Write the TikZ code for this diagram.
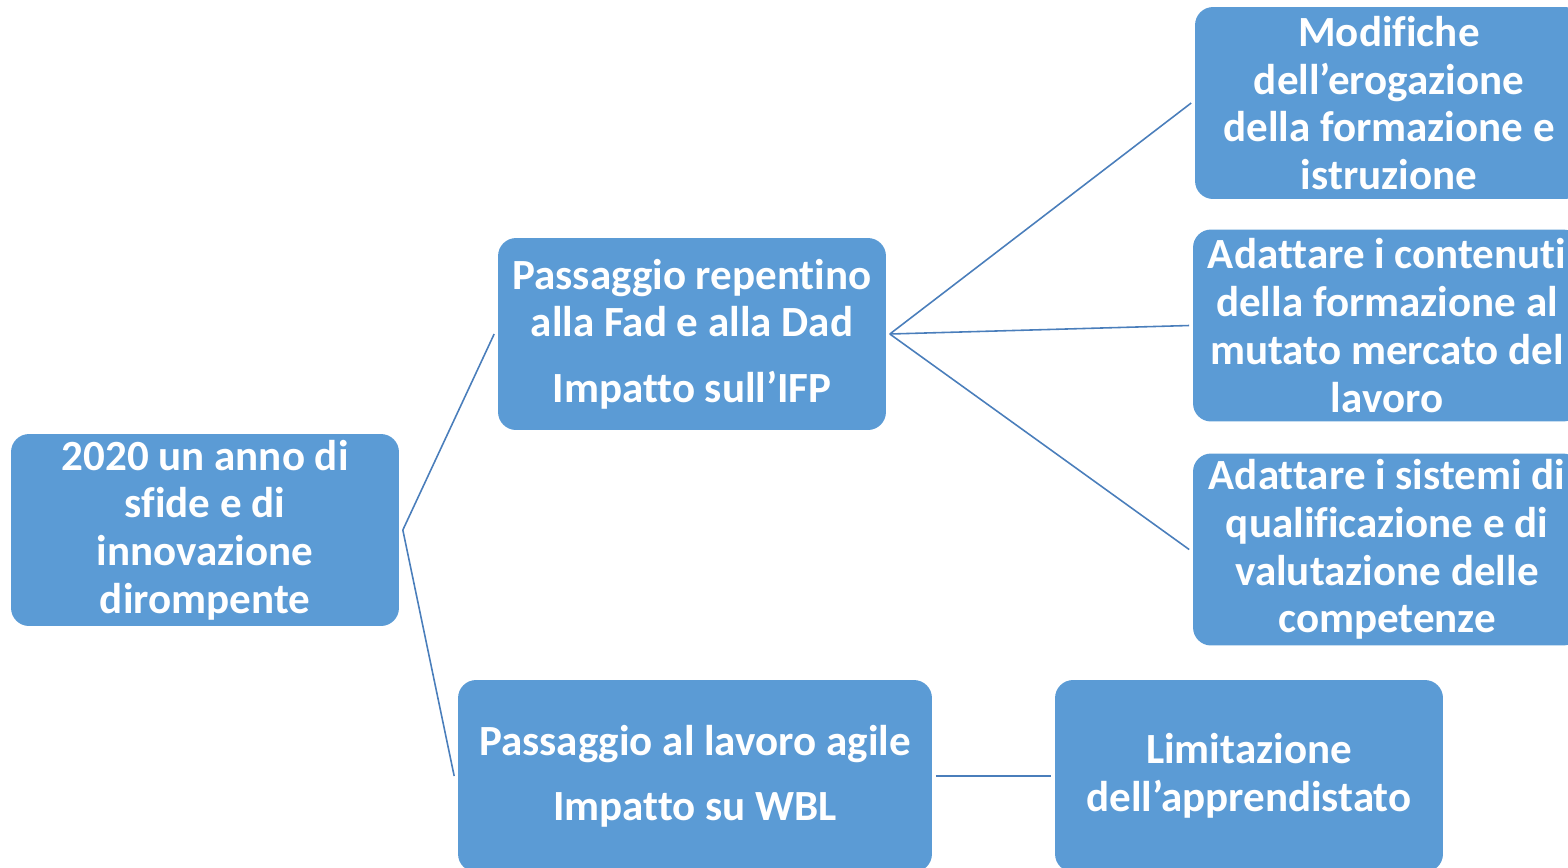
\documentclass[tikz,border=0pt]{standalone}
\usepackage{fontspec}
\setmainfont{Carlito}[RawFeature={-liga;-clig;-calt}]
\usetikzlibrary{positioning}

\definecolor{boxblue}{HTML}{5B9BD5}
\definecolor{lineblue}{HTML}{4A7EBB}

\tikzset{
	box/.style={fill=boxblue, rounded corners=0.36cm, minimum width=7.76cm, minimum height=3.84cm, inner sep=0pt,
		text=white, align=center, font=\bfseries\fontsize{24.5}{27.2}\selectfont},
	link/.style={draw=lineblue, line width=0.9pt}
}

\begin{document}
\begin{tikzpicture}[x=0.02cm, y=-0.02cm]
		%%%%% START %%%%%
		
		\useasboundingbox (0, 0) rectangle (1568, 867);
		\clip (0, 0) rectangle (1568, 867);
		
		\node[box] (anno) at (205, 530) {2020 un anno di\\sfide e di\\innovazione\\dirompente};
		
		\node[box] (fad) at (692, 334) {Passaggio repentino\\alla Fad e alla Dad\\[10pt]Impatto sull'IFP};
		\node[box, minimum width=9.48cm] (wbl) at (695, 776) {Passaggio al lavoro agile\\[10pt]Impatto su WBL};
		
		\node[box] (modifiche) at (1389, 103) {Modifiche\\dell'erogazione\\della formazione e\\istruzione};
		\node[box] (contenuti) at (1387, 325.5) {Adattare i contenuti\\della formazione al\\mutato mercato del\\lavoro};
		\node[box] (sistemi) at (1387, 549.5) {Adattare i sistemi di\\qualificazione e di\\valutazione delle\\competenze};
		
		\node[box] (limitazione) at (1249, 776) {Limitazione\\dell'apprendistato};
		
		\draw[link] ([xshift=2pt]anno.east) -- ([xshift=-2pt]fad.west);
		\draw[link] ([xshift=2pt]anno.east) -- ([xshift=-2pt]wbl.west);
		
		\draw[link] ([xshift=2pt]fad.east) -- ([xshift=-2pt]modifiche.west);
		\draw[link] ([xshift=2pt]fad.east) -- ([xshift=-2pt]contenuti.west);
		\draw[link] ([xshift=2pt]fad.east) -- ([xshift=-2pt]sistemi.west);
		
		\draw[link] ([xshift=2pt]wbl.east) -- ([xshift=-2pt]limitazione.west);
		
		%%%%% END %%%%%
	\end{tikzpicture}
\end{document}
